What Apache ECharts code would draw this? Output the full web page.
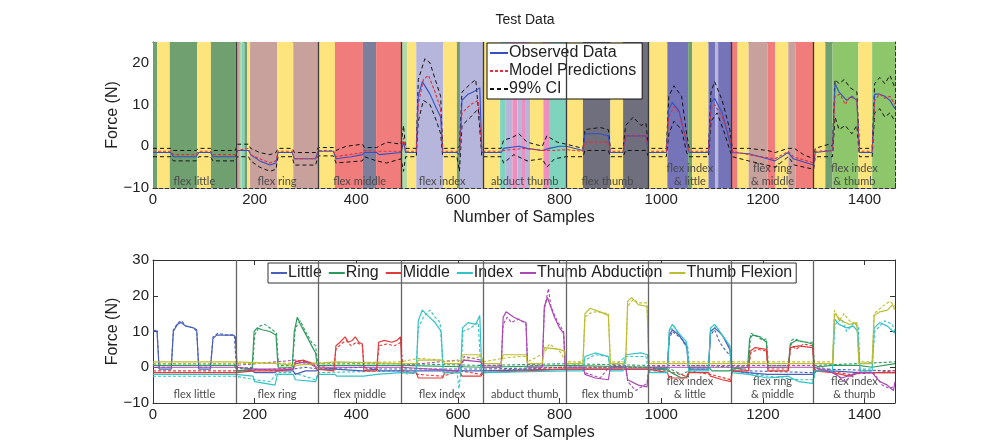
<!DOCTYPE html>
<html>
<head>
<meta charset="utf-8">
<title>Test Data</title>
<script src="https://cdn.jsdelivr.net/npm/echarts@6/dist/echarts.min.js"></script>
<style>
  html, body { margin: 0; padding: 0; background: #fff; }
  #topline { position: absolute; left: 0; top: 1px; width: 1003px; height: 2px; background: #b4b4b4; }
  #container { width: 1003px; height: 442px; }
</style>
</head>
<body>
<div id="topline"></div>
<div id="container"></div>
<script>
// segment boundaries (samples) and the movement in each one
const segBounds = [0, 163, 325, 488, 650, 813, 975, 1138, 1300, 1460];
const segLabels = ['flex little', 'flex ring', 'flex middle', 'flex index', 'abduct thumb',
    'flex thumb', 'flex index\n& little', 'flex ring\n& middle', 'flex index\n& thumb'];
const dividers = [163, 325, 488, 650, 813, 975, 1138, 1300];

// predicted class bands in the top plot: [start, end, class]
const bands = [
    [0, 8, 'little'], [8, 33, 'rest'], [33, 87, 'little'], [87, 114, 'rest'], [114, 163, 'little'],
    [163, 171, 'ring'], [171, 175, 'lightgreen'], [175, 180, 'teal'], [180, 185, 'little'], [185, 191, 'rest'],
    [191, 244, 'ring'], [244, 276, 'rest'], [276, 325, 'ring'],
    [325, 358, 'rest'], [358, 413, 'middle'], [413, 439, 'slate'], [439, 488, 'middle'],
    [488, 500, 'lightgreen'], [500, 518, 'rest'], [518, 571, 'index'], [571, 598, 'rest'], [598, 604, 'little'], [604, 650, 'index'],
    [650, 683, 'rest'], [683, 693, 'teal'], [693, 707, 'index'], [707, 717, 'abduct'], [717, 726, 'index'],
    [726, 732, 'abduct'], [732, 742, 'index'], [742, 768, 'rest'], [768, 781, 'abduct'], [781, 813, 'teal'],
    [813, 846, 'rest'], [846, 900, 'thumb'], [900, 925, 'rest'], [925, 975, 'thumb'],
    [975, 1012, 'rest'], [1012, 1053, 'indexLittle'], [1053, 1061, 'little'], [1061, 1093, 'rest'],
    [1093, 1106, 'indexLittle'], [1106, 1112, 'index'], [1112, 1138, 'indexLittle'],
    [1138, 1150, 'middle'], [1150, 1172, 'rest'], [1172, 1209, 'ring'], [1209, 1224, 'middle'],
    [1224, 1250, 'rest'], [1250, 1264, 'ring'], [1264, 1300, 'middle'],
    [1300, 1323, 'rest'], [1323, 1337, 'little'], [1337, 1388, 'indexThumb'], [1388, 1415, 'rest'], [1415, 1460, 'indexThumb']
];

// top plot: observed, model prediction, 99% CI
const topObs = [[0,-1.5],[35,-1.5],[40,-2.5],[85,-2.5],[90,-1.5],[113,-1.5],[118,-2.5],[162,-2.5],[166,-1],[188,-1],[192,-2],[210,-3.5],[230,-4.5],[242,-4],[246,-1.5],[274,-1.5],[278,-3],[320,-3],[325,-1.2],[355,-1.2],[360,-3],[390,-2.5],[412,-2],[416,-1.5],[440,-1.5],[445,-2],[488,-1.5],[493,1],[497,-1.5],[518,-1.5],[522,12],[530,15.5],[545,12.5],[558,9],[566,7],[570,-1.5],[598,-1.5],[603,-2],[608,11],[620,12.5],[630,13],[643,14],[647,-1.5],[685,-1.5],[690,-0.5],[720,0],[736,-0.5],[766,-1],[780,-0.5],[800,0],[813,0],[846,-1],[850,3],[880,3],[896,2.5],[900,-1.5],[925,-1.5],[930,2.5],[970,2.5],[975,-1.5],[1010,-1.5],[1015,9],[1022,10.5],[1035,8.5],[1050,1],[1055,-1.5],[1093,-1.5],[1098,10.5],[1105,11.5],[1120,8],[1135,1],[1140,-1.5],[1172,-1.8],[1209,-3],[1224,-3.5],[1250,-1.5],[1260,-3],[1300,-4.5],[1303,-1.5],[1337,-1],[1342,15],[1350,13],[1365,11],[1375,12],[1385,11],[1390,-1.5],[1415,-1.5],[1420,12.5],[1430,12.5],[1440,12],[1450,11],[1460,9]];
const topPred = [[0,-1.2],[35,-1.2],[40,-2],[85,-2],[90,-1.2],[113,-1.2],[118,-2],[162,-2],[166,-1],[188,-0.5],[192,-2],[210,-3],[230,-4],[242,-3.5],[246,-1.2],[274,-1.2],[278,-3],[320,-3],[325,-1],[355,-1],[360,-2.5],[412,-1.5],[416,-1],[440,-1.2],[488,-1.2],[493,2],[497,-1.2],[518,-1.2],[522,10],[532,16],[542,17],[555,13],[566,9],[570,-1.2],[598,-1.2],[603,-2],[608,8],[625,10],[640,11],[647,-1.2],[685,-1.2],[690,-1],[730,-0.5],[766,-1],[790,-1],[813,-0.8],[846,-1.2],[850,1],[896,1],[900,-1.2],[925,-1.2],[930,2.5],[970,2.5],[975,-1.2],[1010,-1.2],[1015,7],[1025,9.5],[1035,8],[1050,1],[1055,-1.2],[1093,-1.2],[1098,9],[1105,10],[1120,7],[1135,2],[1140,-1.2],[1172,-2],[1224,-3],[1250,-1.2],[1260,-2.5],[1300,-4],[1303,-1.2],[1337,-1],[1342,12],[1352,12.5],[1362,10],[1372,12],[1385,11],[1390,-1.2],[1415,-1.2],[1420,11],[1430,12.5],[1440,11.5],[1450,12],[1460,10]];
const ciUpper = [[0,-0.5],[35,-0.5],[40,-1],[85,-1],[90,-0.5],[113,-0.5],[118,-1],[162,-1],[166,0.5],[188,0.5],[192,-0.5],[210,-1.5],[230,-2],[242,-1.5],[246,-0.5],[274,-0.5],[278,-1.5],[320,-1.5],[325,-0.3],[355,-0.3],[360,-1],[380,0],[412,0.5],[416,-0.3],[440,-0.3],[460,1],[488,0.5],[493,5],[497,-0.5],[518,-0.5],[522,16],[535,21],[545,20],[558,15],[566,12],[570,-0.5],[598,-0.5],[603,0],[608,13],[625,15],[635,16],[647,-0.5],[685,-0.5],[690,1.5],[705,2],[720,3],[736,1],[766,0],[775,2.5],[795,1],[813,0.5],[846,-0.5],[850,4],[880,4.5],[896,4],[900,-0.5],[925,-0.5],[930,5],[945,7],[960,5],[970,5.5],[975,-0.5],[1010,-0.5],[1015,12],[1025,14.5],[1040,12],[1050,3],[1055,-0.5],[1093,-0.5],[1098,13],[1105,15.5],[1120,11],[1135,4],[1140,-0.5],[1172,-0.5],[1209,-1],[1224,-1.5],[1250,-0.5],[1262,-0.5],[1280,-2],[1300,-3],[1303,-0.5],[1330,0.5],[1337,0],[1342,16],[1350,15],[1360,16],[1372,14],[1385,13],[1390,-0.5],[1415,-0.5],[1420,15],[1430,16.5],[1440,15],[1450,17],[1460,14]];
const ciLower = [[0,-2.5],[35,-2.5],[40,-3.5],[85,-3.5],[90,-2.5],[113,-2.5],[118,-3.5],[162,-3.5],[166,-2.5],[188,-2.5],[192,-3.5],[210,-5],[230,-6],[242,-5.5],[246,-2.5],[274,-2.5],[278,-4.5],[320,-4.5],[325,-2.3],[355,-2.3],[360,-4],[412,-3.5],[416,-2.5],[440,-3.5],[460,-4],[488,-3],[493,-6],[497,-2.5],[518,-2.5],[522,6],[532,11],[545,10],[558,6],[566,3],[570,-2.5],[598,-2.5],[603,-6],[608,5],[625,7],[640,9],[647,-2.5],[685,-2.5],[690,-4],[710,-2],[736,-3.5],[766,-3],[775,-5],[790,-3],[813,-2.5],[846,-2.5],[850,-1],[896,-1],[900,-2.5],[925,-2.5],[930,-1],[970,-1],[975,-2.5],[1010,-2.5],[1015,3],[1025,6],[1040,4],[1050,-1.5],[1055,-2.5],[1093,-2.5],[1098,6],[1110,8],[1125,3],[1135,-1],[1140,-2.5],[1172,-3.5],[1224,-5],[1250,-2.5],[1262,-4.5],[1300,-5.5],[1303,-2.5],[1337,-2.5],[1342,7],[1350,4],[1362,5],[1375,3],[1385,5],[1390,-2.5],[1415,-2.5],[1420,8],[1430,9],[1440,7],[1450,8],[1460,6]];

// bottom plot: finger forces, observed (solid) and predicted (dashed)
const fingerNames = ['Little', 'Ring', 'Middle', 'Index', 'Thumb Abduction', 'Thumb Flexion'];
const littleObs = [[0,10.5],[8,10],[12,-0.5],[36,-0.5],[40,10],[48,12],[55,12.5],[65,11.5],[80,11],[86,10.5],[90,-0.5],[113,-0.5],[118,8],[125,9],[140,9],[158,9],[162,8.5],[166,-1],[195,-1],[200,-1.5],[240,-1.5],[245,-1],[276,-1],[280,-2],[300,-1],[322,-1],[330,-0.5],[358,-0.5],[360,-1],[412,-1],[415,-0.5],[440,-0.5],[445,-1],[488,-1],[650,-1],[813,-0.5],[1012,-0.5],[1016,9],[1022,10.5],[1035,9],[1050,6],[1054,-0.5],[1093,-0.5],[1097,10],[1105,11],[1120,9],[1135,5],[1139,-1],[1172,-1.5],[1209,-2],[1300,-2],[1305,-1],[1337,-1],[1388,-1.5],[1460,-1.5]];
const littlePred = [[0,10],[8,10.5],[12,0],[36,0],[40,10.5],[50,12.5],[56,13],[65,11.5],[80,11],[86,10],[90,0],[113,0],[118,8.5],[128,9.5],[145,9],[160,9],[164,0],[200,-0.5],[240,-1],[276,-0.5],[300,0],[325,-0.5],[412,0],[440,-0.5],[650,-0.5],[813,0],[1012,0],[1016,8],[1022,10],[1040,8],[1052,5],[1055,0],[1093,0],[1097,9],[1105,10.5],[1115,7],[1125,5],[1137,3],[1140,0],[1172,-1],[1300,-1.5],[1305,-0.5],[1460,-1]];
const ringObs = [[0,0.5],[160,0.5],[166,-1],[195,-0.5],[199,10],[205,11],[215,10.5],[230,10],[242,9],[246,0],[274,0],[278,10],[284,14],[290,12],[305,8],[316,5],[320,4],[323,0.5],[488,0.5],[650,0],[813,0.5],[975,0],[1012,-0.5],[1020,-1.5],[1040,-3],[1053,-2.5],[1056,0],[1093,0],[1100,-1],[1135,-1],[1140,-0.5],[1170,0],[1174,8],[1180,9],[1195,8.5],[1207,7],[1210,0],[1250,0],[1254,6.5],[1265,7.5],[1285,7],[1298,6.5],[1301,0],[1337,0.5],[1388,0.5],[1415,0],[1460,1]];
const ringPred = [[0,1],[160,1],[166,-0.5],[196,0],[200,9],[210,11.5],[220,12],[235,10.5],[243,9.5],[247,0.5],[274,0.5],[280,11],[290,13],[300,10],[312,7],[320,6],[324,1],[488,1],[650,0.5],[813,1],[975,0.5],[1012,0],[1025,-1],[1040,-2],[1055,-1],[1060,0.5],[1093,0.5],[1140,0],[1172,0.5],[1176,9.5],[1185,9],[1200,7.5],[1207,8],[1211,0.5],[1250,0.5],[1256,7.5],[1262,8],[1280,7],[1298,7],[1302,0.5],[1460,1.5]];
const middleObs = [[0,-1.5],[163,-1.5],[200,-1],[245,-1],[276,-0.5],[280,1.5],[295,2],[315,1],[322,-0.5],[356,-1],[360,6],[368,7],[378,8.5],[384,7],[392,7.5],[398,8.5],[405,7],[412,6.5],[415,-1],[440,-1],[444,7],[455,7.5],[470,7],[480,7.5],[487,8.5],[490,-1.5],[518,-1.5],[522,-3],[570,-3],[574,-1.5],[605,-1.5],[608,-2.5],[645,-2.5],[650,-1.5],[813,-0.5],[975,-0.5],[1012,-1.5],[1016,-3],[1050,-3],[1055,-1.5],[1093,-1.5],[1097,-2.5],[1120,-3.5],[1137,-4],[1140,-1],[1172,-1],[1175,4.5],[1185,5.5],[1207,5],[1210,-1],[1250,-1],[1254,5.5],[1270,6],[1298,5.5],[1301,-1],[1337,-1.5],[1370,-2.5],[1390,-1.5],[1460,-1.5]];
const middlePred = [[0,-1],[163,-1],[245,-0.5],[276,0],[282,2],[300,1.5],[320,0.5],[356,-0.5],[360,5],[370,6.5],[380,7.5],[390,6],[400,7],[412,6],[416,-0.5],[440,-0.5],[445,6],[460,6.5],[475,6],[488,7],[492,-1],[522,-2],[570,-2.5],[605,-1],[645,-2],[650,-1],[813,0],[975,0],[1012,-1],[1050,-2.5],[1055,-1],[1097,-2],[1137,-3.5],[1140,-0.5],[1172,-0.5],[1176,4],[1190,5],[1207,4.5],[1210,-0.5],[1250,-0.5],[1255,6.5],[1265,5],[1280,6.5],[1298,6],[1301,-0.5],[1370,-2],[1460,-1]];
const indexObs = [[0,-2],[163,-2],[197,-2.5],[200,-4],[220,-4.5],[240,-5],[245,-2],[276,-2],[280,-3.5],[320,-4],[325,-2],[358,-2],[362,-2.5],[415,-2.5],[440,-2],[488,-1.5],[518,-1.5],[522,13],[530,16],[540,14.5],[555,12.5],[567,10],[571,-1.5],[605,-1.5],[609,11],[620,12.5],[635,12],[643,14.5],[647,-1.5],[813,-1],[846,-1],[850,3],[870,4],[896,3],[900,-1],[925,-1],[930,3.5],[960,4],[973,3.5],[977,-1.5],[1012,-1.5],[1016,10.5],[1022,12],[1035,9.5],[1050,7],[1054,-1],[1093,-1],[1097,11],[1105,12],[1120,9],[1135,6],[1139,-1.5],[1172,-2],[1209,-3],[1250,-2.5],[1270,-4],[1298,-4.5],[1302,-1],[1337,-1],[1341,13.5],[1350,12],[1365,11],[1378,11.5],[1387,10],[1391,-1],[1415,-1],[1419,11],[1430,12.5],[1445,11.5],[1460,9.5]];
const indexPred = [[0,-2.5],[163,-2.5],[200,-3.5],[230,-4],[245,-1.5],[276,-1.5],[320,-3.5],[325,-1.5],[488,-1],[495,1],[500,-2],[518,-1],[522,11],[532,14],[545,16],[555,14],[565,12.5],[571,-1],[598,-1],[602,-6],[606,-1],[610,10],[625,11],[640,12.5],[645,-1],[813,-0.5],[850,2],[870,3.5],[896,3],[900,-0.5],[930,3],[970,3],[975,-1],[1012,-1],[1016,10],[1025,11.5],[1040,8],[1052,6],[1055,-0.5],[1093,-0.5],[1097,10],[1108,11.5],[1125,8],[1137,5],[1140,-1],[1209,-2.5],[1270,-3.5],[1300,-3.5],[1305,-0.5],[1337,-0.5],[1342,12],[1355,13.5],[1365,10],[1380,12.5],[1388,11],[1391,-0.5],[1415,-0.5],[1420,10],[1440,13],[1455,12],[1460,10]];
const abductObs = [[0,0],[163,0],[200,-0.5],[276,-0.5],[280,1],[300,1.5],[322,0],[488,0],[600,-1],[605,1],[612,2],[645,1.5],[650,0],[685,0],[689,14],[695,15.5],[710,14],[725,13],[734,12.5],[737,0],[766,0],[770,17],[776,19.5],[790,14],[800,11],[808,9.5],[811,0],[846,0],[850,-2],[870,-3],[896,-3.5],[900,0],[930,0],[934,-3.5],[955,-5],[972,-5.5],[976,0],[1300,0],[1337,-1.5],[1355,-3],[1388,-1.5],[1415,-1.5],[1430,-4],[1445,-5],[1457,-6.5],[1460,-4]];
const abductPred = [[0,0.5],[163,0.5],[280,2],[300,1],[322,0.5],[488,0.5],[600,2],[606,-1],[612,3],[645,2],[650,0.5],[685,0.5],[689,12],[697,14],[705,12.5],[720,13.5],[734,12],[737,0.5],[766,0.5],[770,16],[778,22],[783,17],[795,13],[808,10],[811,0.5],[846,0.5],[850,-1.5],[880,-3],[900,0.5],[930,0.5],[934,-4],[950,-6.5],[972,-4.5],[976,0.5],[1300,0.5],[1337,-1],[1360,-4],[1388,-1],[1415,-1],[1435,-5],[1450,-6],[1460,-5]];
const flexionObs = [[0,1.5],[163,1.5],[245,1],[280,0.5],[322,1],[358,1.5],[488,1],[518,1],[522,2],[570,2],[574,1],[605,1],[609,3.5],[645,3.5],[650,1],[685,1],[689,3.5],[734,3.5],[737,1],[766,1],[770,5.5],[800,5],[810,4.5],[813,1],[846,1],[850,15],[860,16.5],[880,15.5],[896,14.5],[900,1],[930,1],[934,18.5],[942,19.5],[955,17.5],[972,17],[976,1],[1337,1],[1341,15],[1355,13],[1370,12],[1385,12.5],[1389,1],[1415,1],[1419,14.5],[1430,15.5],[1445,16],[1455,17.5],[1460,16]];
const flexionPred = [[0,1],[163,1],[488,1.5],[522,2.5],[570,2],[574,1.5],[609,2],[645,3],[650,1.5],[689,2.5],[720,3],[734,3],[737,1.5],[770,4],[780,6.5],[800,4.5],[813,1.5],[846,1.5],[850,14],[858,15],[870,15.5],[896,15],[900,1.5],[930,1.5],[934,17],[945,19],[955,18],[972,18],[976,1.5],[1337,1.5],[1341,16],[1350,13],[1360,15],[1370,13],[1385,12],[1389,1.5],[1415,1.5],[1419,15],[1435,17],[1450,18.5],[1460,17]];

const fingerObs = [littleObs, ringObs, middleObs, indexObs, abductObs, flexionObs];
const fingerPred = [littlePred, ringPred, middlePred, indexPred, abductPred, flexionPred];
const FINGER_COLORS = ['#4a5fb8', '#2f9a5e', '#e23b3b', '#33c2c6', '#a947b3', '#bdbd32'];
const BAND_COLORS = {
    rest: '#fde47c', little: '#70a070', ring: '#c9a19c', middle: '#f07d7b', index: '#b6b5dc',
    abduct: '#ee90bf', thumb: '#6f6f7e', indexLittle: '#7574b9', indexThumb: '#8dc66b',
    slate: '#7c7f9b', teal: '#80d3bd', lightgreen: '#b2d9a8'
};
const FONT = '"Liberation Sans", Arial, sans-serif';

let dom = document.getElementById('container');
let myChart = echarts.init(dom);

function minusFmt(v) {
    return String(v).replace('-', '\u2212');
}

function segAreas() {
    let out = [];
    for (let i = 0; i < segLabels.length; i++) {
        out.push([{ xAxis: segBounds[i], name: segLabels[i] }, { xAxis: segBounds[i + 1] }]);
    }
    return out;
}

function segHelper(xi, yi, dividerColor, labelDist) {
    return {
        type: 'line',
        xAxisIndex: xi,
        yAxisIndex: yi,
        data: [],
        z: 2,
        silent: true,
        markLine: {
            silent: true,
            symbol: 'none',
            label: { show: false },
            lineStyle: { color: dividerColor, width: 1.3, type: 'solid' },
            data: dividers.map(function (d) { return { xAxis: d }; })
        },
        markArea: {
            silent: true,
            itemStyle: { color: 'rgba(0,0,0,0)' },
            label: {
                show: true,
                position: 'insideBottom',
                distance: labelDist,
                formatter: '{b}',
                fontFamily: 'Lato, "Open Sans", sans-serif',
                fontSize: 11,
                lineHeight: 13,
                color: '#4a4a4a'
            },
            data: segAreas()
        }
    };
}

function xAxisFor(grid, pos, dashed, main) {
    return {
        type: 'value',
        gridIndex: grid,
        position: pos,
        min: 0,
        max: 1460,
        interval: 200,
        name: main ? 'Number of Samples' : '',
        nameLocation: 'middle',
        nameGap: 22,
        nameTextStyle: { fontFamily: FONT, fontSize: 16, color: '#222' },
        axisLine: { show: true, onZero: false, lineStyle: { color: '#333', width: 1, type: dashed ? 'dashed' : 'solid' } },
        axisTick: { show: !dashed || main, inside: true, length: 5, lineStyle: { color: '#333' } },
        axisLabel: {
            show: main,
            margin: 4,
            fontFamily: FONT,
            fontSize: 15,
            color: '#222',
            formatter: function (v) { return v % 200 === 0 ? minusFmt(v) : ''; }
        },
        splitLine: { show: false }
    };
}

function yAxisFor(grid, pos, dashed, main, min, max) {
    return {
        type: 'value',
        gridIndex: grid,
        position: pos,
        min: min,
        max: max,
        interval: 10,
        name: main ? 'Force (N)' : '',
        nameLocation: 'middle',
        nameGap: 32,
        nameMoveOverlap: false,
        nameTextStyle: { fontFamily: FONT, fontSize: 16, color: '#222' },
        axisLine: { show: true, onZero: false, lineStyle: { color: '#333', width: 1, type: dashed ? 'dashed' : 'solid' } },
        axisTick: { show: !dashed || main, inside: true, length: 5, lineStyle: { color: '#333' } },
        axisLabel: {
            show: main,
            margin: 4,
            fontFamily: FONT,
            fontSize: 15,
            color: '#222',
            formatter: function (v) { return v % 10 === 0 ? minusFmt(v) : ''; }
        },
        splitLine: { show: false }
    };
}

let seriesInOption = [];

// background class bands
seriesInOption.push({
    type: 'line',
    xAxisIndex: 0,
    yAxisIndex: 0,
    data: [],
    z: 1,
    silent: true,
    markArea: {
        silent: true,
        data: bands.map(function (b) {
            return [{ xAxis: b[0], itemStyle: { color: BAND_COLORS[b[2]] } }, { xAxis: b[1] }];
        })
    }
});
seriesInOption.push(segHelper(0, 0, '#3a3a3a', 0));
seriesInOption.push(segHelper(2, 2, '#666', 2));

seriesInOption.push({
    name: '99% CI', type: 'line', xAxisIndex: 0, yAxisIndex: 0, data: ciUpper, symbol: 'none', z: 3,
    lineStyle: { color: '#111', width: 1, type: [4, 3] }, itemStyle: { color: '#111' }
});
seriesInOption.push({
    name: '99% CI', type: 'line', xAxisIndex: 0, yAxisIndex: 0, data: ciLower, symbol: 'none', z: 3,
    lineStyle: { color: '#111', width: 1, type: [4, 3] }, itemStyle: { color: '#111' }
});
seriesInOption.push({
    name: 'Observed Data', type: 'line', xAxisIndex: 0, yAxisIndex: 0, data: topObs, symbol: 'none', z: 4,
    lineStyle: { color: '#3550c4', width: 1.1 }, itemStyle: { color: '#3550c4' }
});
seriesInOption.push({
    name: 'Model Predictions', type: 'line', xAxisIndex: 0, yAxisIndex: 0, data: topPred, symbol: 'none', z: 4,
    lineStyle: { color: '#e2303c', width: 1.1, type: [3, 2] }, itemStyle: { color: '#e2303c' }
});

for (let i = 0; i < fingerNames.length; i++) {
    seriesInOption.push({
        name: fingerNames[i] + ' pred', type: 'line', xAxisIndex: 2, yAxisIndex: 2, data: fingerPred[i],
        symbol: 'none', z: 3,
        lineStyle: { color: FINGER_COLORS[i], width: 1.1, type: [3, 2] }
    });
    seriesInOption.push({
        name: fingerNames[i], type: 'line', xAxisIndex: 2, yAxisIndex: 2, data: fingerObs[i],
        symbol: 'none', z: 4,
        lineStyle: { color: FINGER_COLORS[i], width: 1.2 }, itemStyle: { color: FINGER_COLORS[i] }
    });
}

let option = {
    animation: false,
    backgroundColor: '#fff',
    title: {
        text: 'Test Data',
        left: 520,
        textAlign: 'center',
        top: 8,
        textStyle: { fontFamily: FONT, fontSize: 14, fontWeight: 'normal', color: '#222' }
    },
    legend: [{
        data: ['Observed Data', 'Model Predictions', '99% CI'],
        orient: 'vertical',
        left: 487,
        top: 43,
        itemWidth: 18,
        itemHeight: 14,
        itemGap: 2,
        padding: [2, 6, 2, 2],
        backgroundColor: '#fff',
        borderColor: '#111',
        borderWidth: 1,
        borderRadius: 0,
        selectedMode: false,
        itemStyle: { opacity: 0 },
        textStyle: { fontFamily: FONT, fontSize: 16, color: '#222', padding: [0, 0, 0, -4] }
    }, {
        data: fingerNames,
        orient: 'horizontal',
        left: 268,
        top: 263,
        itemWidth: 16,
        itemHeight: 12,
        itemGap: 6,
        padding: [2, 4, 2, 2],
        backgroundColor: '#fff',
        borderColor: '#333',
        borderWidth: 1,
        borderRadius: 0,
        selectedMode: false,
        itemStyle: { opacity: 0 },
        textStyle: { fontFamily: FONT, fontSize: 16, color: '#222', padding: [0, 0, 0, -4] }
    }],
    grid: [
        { left: 153, right: 108, top: 42, height: 146 },
        { left: 153, right: 108, top: 260, height: 145 }
    ],
    xAxis: [
        xAxisFor(0, 'bottom', true, true),
        xAxisFor(0, 'top', true, false),
        xAxisFor(1, 'bottom', false, true),
        xAxisFor(1, 'top', false, false)
    ],
    yAxis: [
        yAxisFor(0, 'left', true, true, -10, 25),
        yAxisFor(0, 'right', true, false, -10, 25),
        yAxisFor(1, 'left', false, true, -10, 30),
        yAxisFor(1, 'right', false, false, -10, 30)
    ],
    series: seriesInOption
};

myChart.setOption(option, true);
window.addEventListener('resize', function () {
    myChart.resize();
});
</script>
</body>
</html>
